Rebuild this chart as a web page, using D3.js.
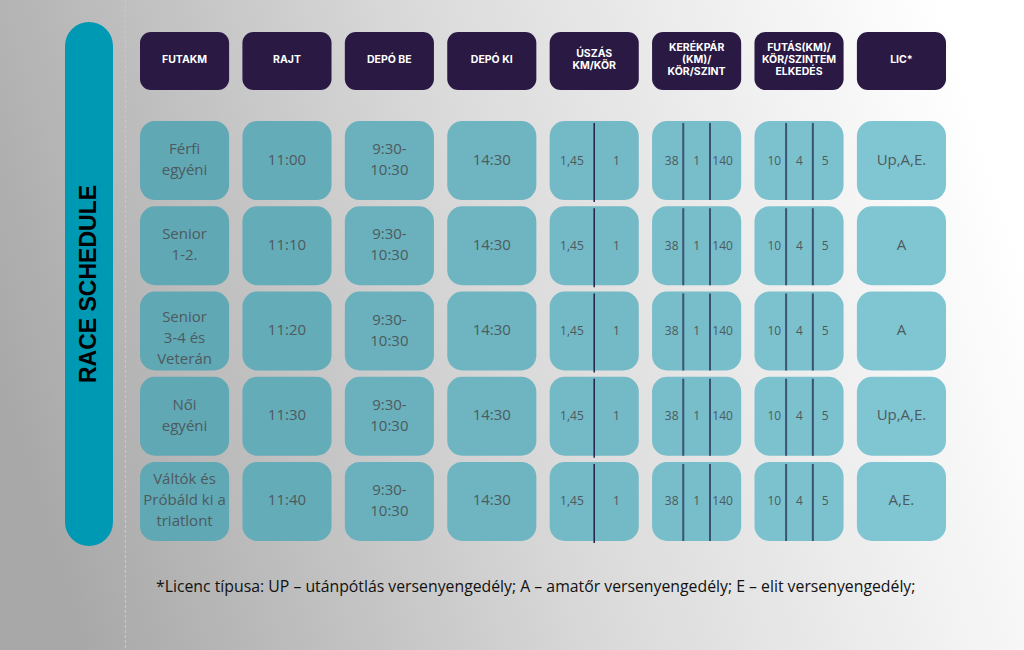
<!DOCTYPE html>
<html>
<head>
<meta charset="utf-8">
<script src="https://cdn.jsdelivr.net/npm/d3@7"></script>
<style>
html,body{margin:0;padding:0;background:#fff;}
svg{display:block;}
</style>
</head>
<body>
<svg id="chart" width="1024" height="650"></svg>
<script>
// ---- data ----
const title = "RACE SCHEDULE";
const headers = [
  ["FUTAKM"],
  ["RAJT"],
  ["DEPÓ BE"],
  ["DEPÓ KI"],
  ["ÚSZÁS", "KM/KÖR"],
  ["KERÉKPÁR", "(KM)/", "KÖR/SZINT"],
  ["FUTÁS(KM)/", "KÖR/SZINTEM", "ELKEDÉS"],
  ["LIC*"]
];
const categories = [
  ["Férfi", "egyéni"],
  ["Senior", "1-2."],
  ["Senior", "3-4 és", "Veterán"],
  ["Női", "egyéni"],
  ["Váltók és", "Próbáld ki a", "triatlont"]
];
const startTimes = ["11:00", "11:10", "11:20", "11:30", "11:40"];
const depoIn = [["9:30-", "10:30"], ["9:30-", "10:30"], ["9:30-", "10:30"], ["9:30-", "10:30"], ["9:30-", "10:30"]];
const depoOut = ["14:30", "14:30", "14:30", "14:30", "14:30"];
const swim = [["1,45", "1"], ["1,45", "1"], ["1,45", "1"], ["1,45", "1"], ["1,45", "1"]];
const bike = [["38", "1", "140"], ["38", "1", "140"], ["38", "1", "140"], ["38", "1", "140"], ["38", "1", "140"]];
const run = [["10", "4", "5"], ["10", "4", "5"], ["10", "4", "5"], ["10", "4", "5"], ["10", "4", "5"]];
const licence = ["Up,A,E.", "A", "A", "Up,A,E.", "A,E."];
const footnote = "*Licenc típusa: UP – utánpótlás versenyengedély; A – amatőr versenyengedély; E – elit versenyengedély;";

// ---- layout ----
const svg = d3.select("#chart");
const W = 1024, H = 650;

const defs = svg.append("defs");
const bg = defs.append("linearGradient").attr("id", "bg")
  .attr("x1", "0").attr("y1", "0.6").attr("x2", "1").attr("y2", "0.4");
bg.append("stop").attr("offset", "0").attr("stop-color", "#a8a8a8");
bg.append("stop").attr("offset", "0.5").attr("stop-color", "#dadada");
bg.append("stop").attr("offset", "0.97").attr("stop-color", "#fdfdfd");
bg.append("stop").attr("offset", "1").attr("stop-color", "#ffffff");
svg.append("rect").attr("width", W).attr("height", H).attr("fill", "url(#bg)");

// dashed separator
svg.append("line").attr("x1", 125.5).attr("x2", 125.5).attr("y1", 0).attr("y2", H)
  .attr("stroke", "#c9c0e2").attr("stroke-width", 1.2).attr("stroke-dasharray", "3,2");

// left title bar
svg.append("rect").attr("x", 65).attr("y", 22).attr("width", 48).attr("height", 524)
  .attr("rx", 24).attr("fill", "#0099b3");
svg.append("text").attr("transform", "translate(96,284) rotate(-90)")
  .attr("text-anchor", "middle")
  .attr("font-family", "Liberation Sans, Arial, sans-serif")
  .attr("font-weight", "bold").attr("font-size", 23).attr("fill", "#000")
  .text(title);

const colIdx = d3.range(headers.length);
const x = d3.scaleBand().domain(colIdx).range([140, 946]).paddingInner(0.13);
const rowIdx = d3.range(categories.length);
const y = d3.scaleBand().domain(rowIdx).range([121, 541]).paddingInner(0.073);
const cellColor = d3.scaleLinear().domain([0, headers.length - 1]).range(["#61a8b5", "#80c6d2"]).interpolate(d3.interpolateRgb);

// header
const hg = svg.append("g");
headers.forEach((lines, i) => {
  hg.append("rect").attr("x", x(i)).attr("y", 32).attr("width", x.bandwidth()).attr("height", 58)
    .attr("rx", 11).attr("fill", "#291943");
  const cx = x(i) + x.bandwidth() / 2, cy = 61;
  const lh = 12;
  const t = hg.append("text").attr("text-anchor", "middle")
    .attr("font-family", "Inter, sans-serif").attr("font-weight", 700)
    .attr("font-size", 10.5).attr("fill", "#ffffff");
  lines.forEach((l, k) => {
    t.append("tspan").attr("x", cx)
      .attr("y", cy + (k - (lines.length - 1) / 2) * lh + 2)
      .text(l);
  });
});

// cells
const cols = [
  categories,
  startTimes.map(d => [d]),
  depoIn,
  depoOut.map(d => [d]),
  swim,
  bike,
  run,
  licence.map(d => [d])
];
const splits = {4: [0.5], 5: [0.35, 0.65], 6: [0.355, 0.655]};
const dividerColor = {4: "#23214b", 5: "#3a5274", 6: "#3a5274"};
const cg = svg.append("g");
cols.forEach((colData, i) => {
  colData.forEach((vals, r) => {
    const x0 = x(i), y0 = y(r), w = x.bandwidth(), h = y.bandwidth();
    cg.append("rect").attr("x", x0).attr("y", y0).attr("width", w).attr("height", h)
      .attr("rx", 15).attr("fill", cellColor(i));
    if (splits[i]) {
      const fr = [0].concat(splits[i], [1]);
      splits[i].forEach(f => {
        cg.append("line").attr("x1", x0 + f * w).attr("x2", x0 + f * w)
          .attr("y1", y0 + 2).attr("y2", y0 + h + (i === 4 ? 2 : 0))
          .attr("stroke", dividerColor[i]).attr("stroke-width", i === 4 ? 1.5 : 2);
      });
      vals.forEach((v, k) => {
        const cx = x0 + (fr[k] + fr[k + 1]) / 2 * w + (k === 0 && i !== 4 ? 4 : 0) - (k === vals.length - 1 && i !== 4 ? 3 : 0);
        cg.append("text").attr("x", cx).attr("y", y0 + h / 2 + 4)
          .attr("text-anchor", "middle")
          .attr("font-family", "Open Sans, sans-serif").attr("font-size", 12)
          .attr("fill", "#4d5a5e").text(v);
      });
    } else {
      const lh = 21;
      const cx = x0 + w / 2, cy = y0 + h / 2 - 1 + (vals.length === 3 && r === 2 ? 8 : 0);
      const t = cg.append("text").attr("text-anchor", "middle")
        .attr("font-family", "Open Sans, sans-serif").attr("font-size", 15)
        .attr("fill", "#4d5a5e");
      vals.forEach((l, k) => {
        t.append("tspan").attr("x", cx)
          .attr("y", cy + (k - (vals.length - 1) / 2) * lh + 5)
          .text(l);
      });
    }
  });
});

// footnote
svg.append("text").attr("x", 156).attr("y", 592)
  .attr("font-family", "Open Sans, sans-serif").attr("font-size", 15.8)
  .attr("fill", "#111").text(footnote);
</script>
</body>
</html>
